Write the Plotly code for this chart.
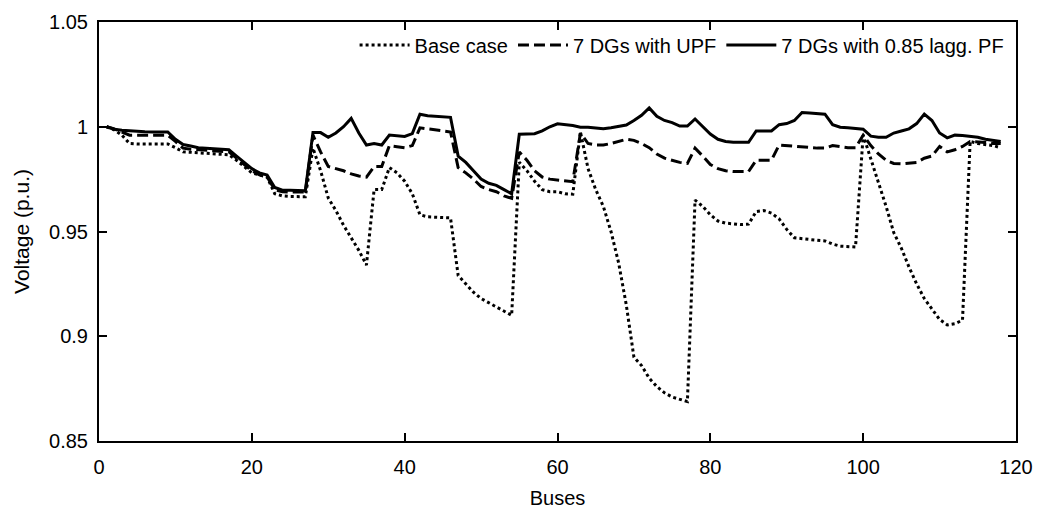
import plotly.graph_objects as go

buses = list(range(1, 119))

base_case = [
    1.000, 0.9985, 0.996, 0.992, 0.9918, 0.9918, 0.9918, 0.9918, 0.9918, 0.990,
    0.988, 0.9878, 0.9875, 0.9872, 0.987, 0.9868, 0.9866, 0.984, 0.981, 0.978,
    0.977, 0.976, 0.968, 0.967, 0.9667, 0.9666, 0.9666, 0.9898, 0.979, 0.966,
    0.960, 0.953, 0.947, 0.941, 0.934, 0.970, 0.970, 0.9805, 0.978, 0.974,
    0.968, 0.958, 0.957, 0.9568, 0.9566, 0.9565, 0.929, 0.925, 0.921, 0.918,
    0.916, 0.914, 0.912, 0.910, 0.983, 0.979, 0.974, 0.970, 0.969, 0.969,
    0.968, 0.9678, 0.9975, 0.980, 0.970, 0.962, 0.950, 0.935, 0.915, 0.890,
    0.886, 0.880, 0.876, 0.873, 0.871, 0.870, 0.8688, 0.965, 0.962, 0.958,
    0.955, 0.954, 0.9535, 0.9533, 0.9535, 0.9595, 0.960, 0.9588, 0.956, 0.951,
    0.947, 0.9465, 0.946, 0.9458, 0.9455, 0.944, 0.943, 0.9428, 0.9426, 0.996,
    0.985, 0.974, 0.962, 0.9495, 0.942, 0.933, 0.925, 0.918, 0.913, 0.908,
    0.9054, 0.906, 0.9077, 0.993, 0.992, 0.9915, 0.991, 0.990,
]

upf = [
    1.000, 0.999, 0.9975, 0.996, 0.996, 0.996, 0.996, 0.996, 0.996, 0.993,
    0.9898, 0.9893, 0.989, 0.9888, 0.9885, 0.9882, 0.988, 0.985, 0.982, 0.979,
    0.977, 0.976, 0.970, 0.969, 0.9688, 0.9688, 0.9688, 0.996, 0.988, 0.981,
    0.980, 0.979, 0.9775, 0.9765, 0.976, 0.981, 0.981, 0.991, 0.9905, 0.990,
    0.991, 0.9995, 0.999, 0.9985, 0.998, 0.9975, 0.9805, 0.978, 0.975, 0.9715,
    0.970, 0.969, 0.967, 0.9658, 0.988, 0.984, 0.979, 0.976, 0.975, 0.9745,
    0.974, 0.9738, 0.997, 0.992, 0.9913, 0.9913, 0.992, 0.993, 0.994, 0.9935,
    0.992, 0.990, 0.987, 0.985, 0.984, 0.983, 0.9825, 0.9898, 0.986, 0.982,
    0.980, 0.979, 0.9786, 0.9786, 0.9786, 0.984, 0.984, 0.984, 0.9913, 0.991,
    0.9908, 0.9905, 0.990, 0.9898, 0.9898, 0.991, 0.9905, 0.990, 0.990, 0.996,
    0.991, 0.987, 0.984, 0.9825, 0.9823, 0.9825, 0.983, 0.985, 0.986, 0.9906,
    0.988, 0.989, 0.9906, 0.993, 0.9928, 0.9925, 0.992, 0.992,
]

pf085 = [
    1.000, 0.9988, 0.9983, 0.998, 0.9978, 0.9976, 0.9975, 0.9975, 0.9975, 0.994,
    0.9915, 0.9908, 0.990, 0.9897, 0.9894, 0.9892, 0.989, 0.986, 0.983, 0.980,
    0.978, 0.977, 0.971, 0.9697, 0.9697, 0.9696, 0.9695, 0.9972, 0.9972, 0.995,
    0.997, 1.000, 1.004, 0.997, 0.9913, 0.992, 0.9913, 0.996, 0.9957, 0.9954,
    0.9967, 1.006, 1.0053, 1.005, 1.0048, 1.0045, 0.986, 0.983, 0.979, 0.975,
    0.973, 0.972, 0.970, 0.968, 0.9964, 0.9965, 0.9967, 0.998, 1.000, 1.0014,
    1.001, 1.0006, 0.9998, 0.9998, 0.9994, 0.999, 0.9995, 1.0003, 1.0008, 1.003,
    1.0055, 1.009, 1.005, 1.003, 1.002, 1.0003, 1.0003, 1.0037, 1.000, 0.9965,
    0.994, 0.993, 0.9926, 0.9926, 0.9926, 0.998, 0.998, 0.998, 1.001, 1.0015,
    1.003, 1.0068, 1.0066, 1.0064, 1.006, 1.001, 0.9998, 0.9995, 0.999, 0.9988,
    0.9955, 0.995, 0.995, 0.997, 0.998, 0.999, 1.0015, 1.006, 1.003, 0.997,
    0.9947, 0.996, 0.9958, 0.9955, 0.995, 0.994, 0.9935, 0.993,
]

names = ["Base case", "7 DGs with UPF", "7 DGs with 0.85 lagg. PF"]
x_ticks = [0, 20, 40, 60, 80, 100, 120]
y_ticks = [0.85, 0.9, 0.95, 1.0, 1.05]

FONT = "Liberation Sans, Arial, Helvetica, sans-serif"

fig = go.Figure()
fig.add_trace(go.Scatter(x=buses, y=base_case, mode="lines", name=names[0],
                         line=dict(color="black", width=3, dash="3px,3px")))
fig.add_trace(go.Scatter(x=buses, y=upf, mode="lines", name=names[1],
                         line=dict(color="black", width=3, dash="11px,5px")))
fig.add_trace(go.Scatter(x=buses, y=pf085, mode="lines", name=names[2],
                         line=dict(color="black", width=3)))

axis_common = dict(
    showline=True, linecolor="black", linewidth=2, mirror="ticks",
    ticks="inside", ticklen=8, tickwidth=1.5, tickcolor="black",
    showgrid=False, zeroline=False,
    tickfont=dict(family=FONT, size=20, color="black"),
)

fig.update_xaxes(range=[0, 120], tickvals=x_ticks, ticklabelstandoff=7,
                 title=dict(text="Buses", font=dict(family=FONT, size=20, color="black"), standoff=14),
                 **axis_common)
fig.update_yaxes(range=[0.85, 1.05], tickvals=y_ticks, ticklabelstandoff=5,
                 title=dict(text="Voltage (p.u.)", font=dict(family=FONT, size=21, color="black"), standoff=14),
                 **axis_common)

fig.update_layout(
    width=1044, height=517,
    margin=dict(l=99, r=21, t=11, b=74),
    paper_bgcolor="white", plot_bgcolor="white",
    font=dict(family=FONT, size=20, color="black"),
    legend=dict(orientation="h", x=0.993, xanchor="right", y=0.945, yanchor="middle",
                bgcolor="rgba(0,0,0,0)", font=dict(family=FONT, size=20, color="black"),
                itemwidth=50, tracegroupgap=0),
    showlegend=True,
)

fig.write_html("out.html")
